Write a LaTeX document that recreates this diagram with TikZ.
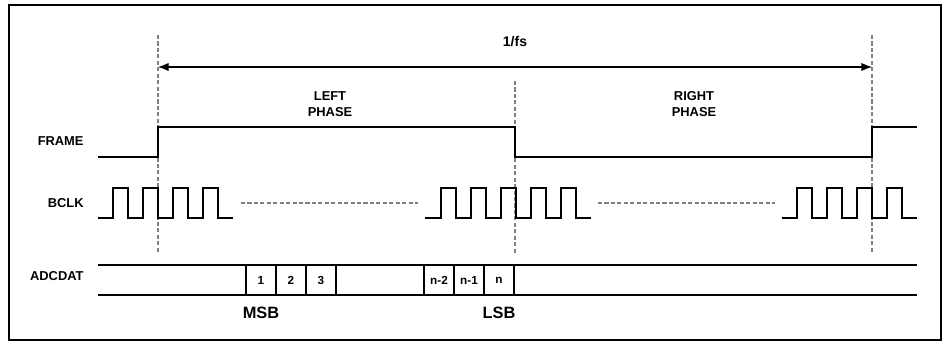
\documentclass[tikz,border=0pt]{standalone}
\usepackage{fontspec}
\setmainfont{Liberation Sans}
\usetikzlibrary{arrows.meta,positioning}

\begin{document}
\begin{tikzpicture}
    [x=0.03cm,y=-0.03cm,line width=0.9pt,
     every node/.style={font=\bfseries\fontsize{11}{13}\selectfont},
     lbl/.style={anchor=east},
     phase/.style={align=center,font=\bfseries\fontsize{11}{13.5}\selectfont},
     bit/.style={draw,minimum width=0.9cm,minimum height=0.9cm,inner sep=0pt,font=\bfseries\fontsize{10}{11}\selectfont},
     side/.style={font=\bfseries\fontsize{14}{16}\selectfont},
     guide/.style={gray,line width=0.9pt,dash pattern=on 3.5pt off 2pt}]
    \useasboundingbox (0,0) rectangle (944,342);
    \draw[line width=1.2pt] (9,5) rectangle (941,340);
    \node[lbl] (frame) at (88,141) {FRAME};
    \node[lbl] (bclk) at (88,203) {BCLK};
    \node[lbl] (adc) at (88,276) {ADCDAT};
    \node[font=\bfseries\fontsize{12}{14}\selectfont] (fs) at (515,42) {1/fs};
    \node[phase] (lp) at (330,104) {LEFT\\PHASE};
    \node[phase] (rp) at (694,104) {RIGHT\\PHASE};
    \coordinate (g0) at (158,35);
    \coordinate (g0b) at (158,253);
    \coordinate (g1) at (515,81);
    \coordinate (g1b) at (515,253);
    \coordinate (g2) at (872,35);
    \coordinate (g2b) at (872,253);
    \draw[guide] (g0) -- (g0b) ;
    \draw[guide] (g1) -- (g1b) ;
    \draw[guide] (g2) -- (g2b) ;
    \coordinate (a0) at (158,67);
    \coordinate (a2) at (872,67);
    \draw[{Latex[length=9pt,width=7pt]}-{Latex[length=9pt,width=7pt]}] (a0) -- (a2) ;
    % frame
    \draw (98,157) -| (158,127) -| (515,157) -| (872,127) -- (917,127);
    % bit clock
    \draw (98,218) -| (113,188) -| (128,218) -| (143,188) -| (158,218) -| (173,188) -| (188,218) -| (203,188) -| (218,218) -- (233,218);
    \draw (425,218) -| (441,188) -| (456,218) -| (471,188) -| (486,218) -| (501,188) -| (516,218) -| (531,188) -| (546,218) -| (561,188) -| (576,218) -- (591,218);
    \draw (782,218) -| (797,188) -| (812,218) -| (827,188) -| (842,218) -| (857,188) -| (872,218) -| (887,188) -| (902,218) -- (917,218);
    \draw[guide] (241,203) -- (418,203);
    \draw[guide] (598,203) -- (775,203);
    % data
    \draw (98,265) -- (917,265);
    \draw (98,295) -- (917,295);
    \node[bit] (b1) at (261,280) {1};
    \node[bit] (b2) at (291,280) {2};
    \node[bit] (b3) at (321,280) {3};
    \node[bit] (bn2) at (439,280) {n-2};
    \node[bit] (bn1) at (469,280) {n-1};
    \node[bit] (bn) at (499,280) {n};
    \node[side] (msb) at (261,313) {MSB};
    \node[side] (lsb) at (499,313) {LSB};
\end{tikzpicture}
\end{document}
